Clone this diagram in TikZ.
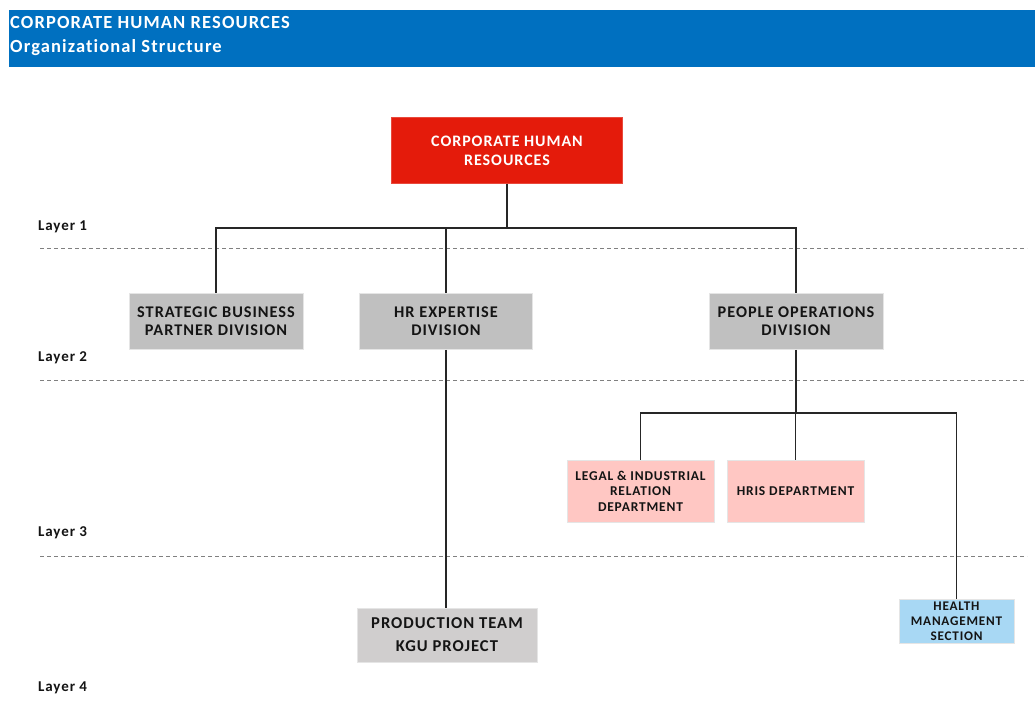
\documentclass[tikz,border=0pt]{standalone}
\usepackage{fontspec}
\setmainfont{Carlito}[LetterSpace=6, Ligatures=NoCommon]
\definecolor{hdrblue}{HTML}{0070C0}
\definecolor{topred}{HTML}{E41B0B}
\definecolor{divgray}{HTML}{C0C0C0}
\definecolor{prodgray}{HTML}{D0CECE}
\definecolor{deptpink}{HTML}{FFC7C3}
\definecolor{secblue}{HTML}{A8D8F4}
\definecolor{dashgray}{HTML}{808080}
\begin{document}
\begin{tikzpicture}[x=1pt,y=-1pt,
  box/.style={draw=white!90!black, line width=0.6pt, inner sep=0pt, align=center, font=\bfseries, text=black!92},
  conn/.style={draw=black!85, line width=1.2pt},
  layerline/.style={draw=dashgray, dashed, dash pattern=on 4pt off 3pt, line width=0.6pt},
  layerlbl/.style={anchor=west, font=\bfseries\fontsize{15}{17}\selectfont, inner sep=0pt, text=black!92}]
\useasboundingbox (0,0) rectangle (1035,706);
\fill[white] (0,0) rectangle (1035,706);
% header
\fill[hdrblue] (9,10) rectangle (1035,67);
\node[anchor=west, text=white, font=\bfseries\fontsize{18.5}{20}\selectfont, inner sep=0pt] (h1) at (10,23) {CORPORATE HUMAN RESOURCES};
\node[anchor=west, text=white, font=\bfseries\fontsize{18.5}{20}\selectfont, inner sep=0pt] (h2) at (10,48) {Organizational Structure};
% layer lines
\draw[layerline] (40,248) -- (1027,248);
\draw[layerline] (40,380) -- (1027,380);
\draw[layerline] (40,556) -- (1027,556);
\node[layerlbl] (l1) at (38,227) {Layer 1};
\node[layerlbl] (l2) at (38,358) {Layer 2};
\node[layerlbl] (l3) at (38,533) {Layer 3};
\node[layerlbl] (l4) at (38,688) {Layer 4};
% nodes
\node[box, fill=topred, draw=topred!80!white, text=white, minimum width=231pt, minimum height=66pt, font=\bfseries\fontsize{16}{19}\selectfont] (chr) at (507,150.5) {CORPORATE HUMAN\\RESOURCES};
\node[box, fill=divgray, minimum width=174pt, minimum height=56pt, font=\bfseries\fontsize{16.3}{18}\selectfont] (sbp) at (216,321.5) {STRATEGIC BUSINESS\\PARTNER DIVISION};
\node[box, fill=divgray, minimum width=173pt, minimum height=56pt, font=\bfseries\fontsize{16.3}{18}\selectfont] (hre) at (446,321.5) {HR EXPERTISE\\DIVISION};
\node[box, fill=divgray, minimum width=174pt, minimum height=56pt, font=\bfseries\fontsize{16.3}{18}\selectfont] (pod) at (796,321.5) {PEOPLE OPERATIONS\\DIVISION};
\node[box, fill=prodgray, minimum width=180pt, minimum height=54pt, font=\bfseries\fontsize{16.6}{23}\selectfont] (prod) at (447,635) {PRODUCTION TEAM\\KGU PROJECT};
\node[box, fill=deptpink, minimum width=147pt, minimum height=62pt, font=\bfseries\fontsize{13.5}{15.5}\selectfont] (legal) at (640.5,491) {LEGAL \& INDUSTRIAL\\RELATION\\DEPARTMENT};
\node[box, fill=deptpink, minimum width=137pt, minimum height=62pt, font=\bfseries\fontsize{13.5}{15.5}\selectfont] (hris) at (795.5,491) {HRIS DEPARTMENT};
\node[box, fill=secblue, minimum width=115pt, minimum height=44pt, font=\bfseries\fontsize{13.2}{15}\selectfont] (hms) at (956.5,621) {HEALTH\\MANAGEMENT\\SECTION};
% connectors
\coordinate (j1) at (507,228);
\coordinate (j2) at (796,413);
\draw[conn] (chr.south) -- (j1);
\draw[conn] (sbp.north) -- (sbp.north |- j1) -- (pod.north |- j1) -- (pod.north);
\draw[conn] (hre.north) -- (hre.north |- j1);
\draw[conn] (hre.south) -- (prod.north -| hre.south);
\draw[conn] (pod.south) -- (j2);
\draw[conn] (legal.north) -- (legal.north |- j2) -- (hms.north |- j2) -- (hms.north);
\draw[conn] (hris.north) -- (hris.north |- j2);
\end{tikzpicture}
\end{document}
